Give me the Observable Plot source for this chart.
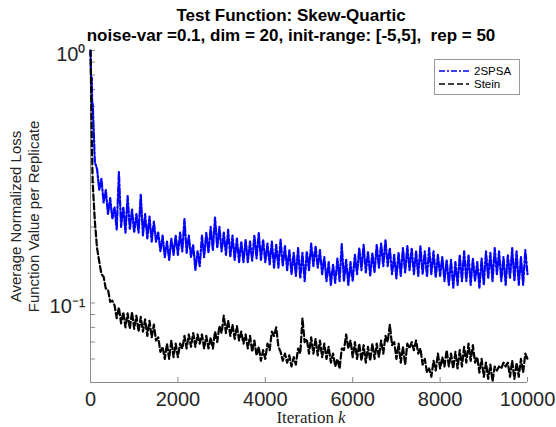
<!DOCTYPE html>
<html>
<head>
<meta charset="utf-8">
<script src="https://cdn.jsdelivr.net/npm/d3@7"></script>
<script src="https://cdn.jsdelivr.net/npm/@observablehq/plot@0.6"></script>
<style>
  html, body { margin: 0; padding: 0; background: white; }
  #wrap { position: relative; width: 556px; height: 427px; overflow: hidden; }
  #chart { position: absolute; left: 0; top: 0; }
  #titles { position: absolute; left: 0; top: 6px; width: 556px; z-index: 2; }
  .title { font-family: "Liberation Sans", Arial, Helvetica, sans-serif; font-weight: bold; font-size: 17px;
           color: #000; text-align: center; padding-left: 26px; line-height: 20px; white-space: pre; }
  #legend { position: absolute; left: 434px; top: 59px; width: 84px; height: 34px; background: white; z-index: 2;
            border: 1px solid #9a9a9a; font-family: "Liberation Sans", Arial, sans-serif; font-size: 11.5px; }
</style>
</head>
<body>
<div id="wrap">
  <div id="chart"></div>
  <div id="titles">
    <div class="title">Test Function: Skew-Quartic</div>
    <div class="title">noise-var =0.1, dim = 20, init-range: [-5,5],  rep = 50</div>
  </div>
  <div id="legend"></div>
</div>
<script>
// ---- data ----
const seriesNames = ["2SPSA", "Stein"];
const iterEarly = [0, 10, 20, 30, 40];
const blueEarly = [1.0, 0.82, 0.70, 0.78, 0.58];
const blackEarly = [1.0, 0.78, 0.58, 0.45, 0.36];
const step = 50; // main samples at 50, 100, ..., 10000
const blue = [
  0.62,0.36,0.34,0.28,0.31,0.25,0.28,0.225,0.26,0.215,
  0.24,0.195,0.33,0.20,0.24,0.19,0.265,0.195,0.235,0.19,
  0.225,0.19,0.27,0.185,0.225,0.18,0.22,0.175,0.21,0.175,
  0.19,0.16,0.185,0.152,0.175,0.148,0.18,0.155,0.185,0.155,
  0.19,0.16,0.215,0.158,0.185,0.152,0.17,0.135,0.16,0.14,
  0.185,0.152,0.19,0.158,0.20,0.162,0.218,0.165,0.20,0.16,
  0.19,0.155,0.195,0.152,0.185,0.148,0.18,0.145,0.175,0.145,
  0.178,0.145,0.175,0.147,0.185,0.15,0.19,0.148,0.178,0.145,
  0.172,0.142,0.175,0.138,0.17,0.138,0.178,0.14,0.168,0.135,
  0.162,0.13,0.158,0.128,0.165,0.125,0.158,0.122,0.16,0.135,
  0.172,0.14,0.168,0.138,0.162,0.13,0.152,0.122,0.145,0.118,
  0.142,0.12,0.15,0.122,0.171,0.122,0.148,0.118,0.145,0.122,
  0.155,0.13,0.165,0.135,0.17,0.132,0.16,0.128,0.158,0.132,
  0.17,0.138,0.172,0.14,0.178,0.14,0.165,0.13,0.155,0.125,
  0.158,0.128,0.165,0.132,0.168,0.135,0.165,0.13,0.16,0.128,
  0.168,0.13,0.16,0.127,0.165,0.13,0.16,0.126,0.155,0.128,
  0.152,0.122,0.148,0.118,0.148,0.115,0.145,0.118,0.155,0.122,
  0.16,0.122,0.155,0.118,0.15,0.122,0.145,0.115,0.15,0.118,
  0.16,0.125,0.158,0.122,0.165,0.13,0.16,0.122,0.152,0.118,
  0.155,0.125,0.165,0.122,0.16,0.118,0.152,0.118,0.162,0.13
];
const black = [
  0.30,0.21,0.165,0.146,0.13,0.127,0.114,0.113,0.101,0.102,
  0.098,0.087,0.096,0.083,0.092,0.080,0.091,0.079,0.092,0.079,
  0.089,0.077,0.088,0.077,0.086,0.074,0.085,0.073,0.082,0.071,
  0.073,0.064,0.067,0.060,0.069,0.060,0.071,0.061,0.069,0.061,
  0.069,0.066,0.074,0.066,0.075,0.067,0.076,0.067,0.075,0.069,
  0.075,0.066,0.074,0.066,0.073,0.066,0.077,0.070,0.081,0.076,
  0.089,0.076,0.085,0.074,0.082,0.072,0.081,0.071,0.077,0.069,
  0.075,0.066,0.074,0.064,0.071,0.062,0.067,0.059,0.065,0.060,
  0.069,0.065,0.077,0.074,0.080,0.067,0.064,0.059,0.063,0.058,
  0.062,0.056,0.061,0.057,0.066,0.063,0.087,0.070,0.072,0.063,
  0.073,0.063,0.072,0.062,0.071,0.061,0.069,0.060,0.067,0.058,
  0.063,0.056,0.060,0.055,0.066,0.065,0.075,0.066,0.071,0.061,
  0.070,0.060,0.069,0.059,0.068,0.058,0.067,0.059,0.069,0.060,
  0.069,0.061,0.071,0.063,0.074,0.070,0.082,0.068,0.070,0.060,
  0.069,0.058,0.067,0.057,0.069,0.066,0.070,0.065,0.071,0.063,
  0.066,0.057,0.060,0.053,0.055,0.051,0.059,0.054,0.063,0.055,
  0.061,0.056,0.065,0.056,0.063,0.055,0.064,0.055,0.065,0.056,
  0.067,0.058,0.069,0.059,0.068,0.058,0.061,0.053,0.060,0.051,
  0.058,0.050,0.057,0.049,0.056,0.054,0.056,0.055,0.058,0.056,
  0.058,0.051,0.059,0.050,0.058,0.051,0.060,0.053,0.063,0.060
];
const xTicks = [0, 2000, 4000, 6000, 8000, 10000];
const yMajor = [0.1, 1];
const yMinor = [0.06, 0.07, 0.08, 0.09, 0.2, 0.3, 0.4, 0.5, 0.6, 0.7, 0.8, 0.9];
const yLabels = {"0.1": "10\u207B\u00B9", "1": "10\u2070"};
const colors = ["#0000ff", "#000000"];
const dashes = ["6,2,2,2", "6,3"];

// ---- build tables ----
function build(early, main) {
  return iterEarly.map((it, i) => ({it, v: early[i]}))
    .concat(main.map((v, i) => ({it: (i + 1) * step, v})));
}
const blueData = build(blueEarly, blue);
const blackData = build(blackEarly, black);

const W = 556, H = 427, mT = 50, mB = 45, mL = 90, mR = 29;
const plotH = H - mT - mB, plotW = W - mL - mR;
const axisColor = "#8c8c8c";
const serif = "'Liberation Serif', 'Times New Roman', serif";

const chart = Plot.plot({
  width: W, height: H,
  marginTop: mT, marginBottom: mB, marginLeft: mL, marginRight: mR,
  x: {domain: [0, 10000]},
  y: {type: "log", domain: [0.0484, 1]},
  style: {fontFamily: "'Liberation Sans', Arial, Helvetica, sans-serif", background: "white", color: "#262626"},
  marks: [
    Plot.axisX(xTicks, {tickSize: 0, tickPadding: 9, fontSize: 20, tickFormat: d => String(d), label: null}),
    Plot.axisY(yMajor, {tickSize: 0, tickPadding: 5, fontSize: 20, tickFormat: d => yLabels[String(d)], label: null, dy: 4}),
    Plot.ruleX([0], {stroke: axisColor}),
    Plot.ruleY([0.0484], {stroke: axisColor}),
    Plot.tickX(xTicks, {x: d => d, stroke: axisColor, insetTop: plotH - 5}),
    Plot.tickY(yMajor.concat(yMinor), {y: d => d, stroke: axisColor, insetRight: plotW - 5}),
    Plot.line(blueData, {x: "it", y: "v", stroke: colors[0], strokeWidth: 2.2, strokeDasharray: dashes[0]}),
    Plot.line(blackData, {x: "it", y: "v", stroke: colors[1], strokeWidth: 2.2, strokeDasharray: dashes[1]}),
    Plot.text(["Average Normalized Loss\nFunction Value per Replicate"], {text: d => d, frameAnchor: "left", textAnchor: "middle", lineAnchor: "middle", rotate: -90, dx: -66, fontSize: 15, lineHeight: 1.2, fill: "#262626"}),
    Plot.text(["Iteration"], {text: d => d, frameAnchor: "bottom", lineAnchor: "middle", dx: 25, dy: 35, textAnchor: "end", fontSize: 17, fontFamily: serif, fill: "#262626"}),
    Plot.text(["k"], {text: d => d, frameAnchor: "bottom", lineAnchor: "middle", dx: 29, dy: 35, textAnchor: "start", fontSize: 17, fontStyle: "italic", fontFamily: serif, fill: "#262626"})
  ]
});
document.getElementById("chart").appendChild(chart);

// legend
const leg = d3.select("#legend");
seriesNames.forEach((name, i) => {
  const row = leg.append("div").style("position", "absolute").style("left", "3px").style("top", (4.5 + i * 13) + "px")
    .style("height", "12px").style("display", "flex").style("align-items", "center");
  const s = row.append("svg").attr("width", 32).attr("height", 12);
  s.append("line").attr("x1", 1).attr("x2", 31).attr("y1", 6).attr("y2", 6)
    .attr("stroke", colors[i]).attr("stroke-width", 1.3).attr("stroke-dasharray", dashes[i]);
  row.append("span").style("margin-left", "4px").style("line-height", "12px").text(name);
});
</script>
</body>
</html>
